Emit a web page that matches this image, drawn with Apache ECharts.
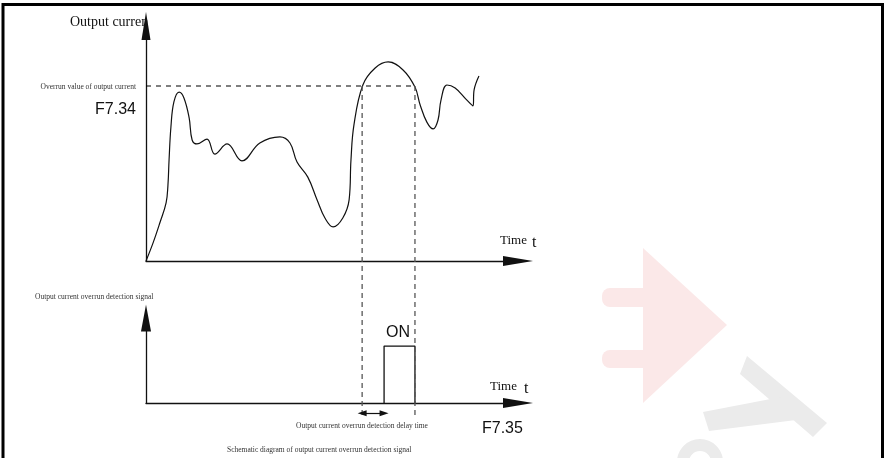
<!DOCTYPE html>
<html lang="en">

<head>
    <meta charset="UTF-8">
    <title>Output current overrun detection signal</title>
    <style>
        * {
            margin: 0;
            padding: 0;
        }

        #main {
            width: 885px;
            height: 458px;
            background: #fff;
        }
    </style>
</head>

<body>
    <div id="main"></div>
</body>
<script src="https://cdn.jsdelivr.net/npm/echarts@6/dist/echarts.min.js"></script>
<script>
    // output current curve (time 0-100, current 0-100)
    let timeX = [0, 1.9, 3.8, 5.4, 5.9, 6.2, 6.7, 7.5, 8.9, 10.2, 11.6, 12.4, 13.7, 16.4, 18.5, 21.8, 25.8, 30.6, 36.0, 38.7,
        40.6, 43.5, 46.0, 48.1, 50.3, 52.9, 54.6, 55.1, 55.9, 58.3, 61.6, 65.1, 69.1, 72.3, 73.7, 75.5, 77.2, 78.5, 79.3,
        80.9, 83.1, 86.0, 87.9, 88.2, 89.5];
    let currentY = [0, 7.7, 16.6, 24.7, 32.3, 43.0, 57.0, 67.7, 71.9, 69.4, 60.9, 51.5, 49.8, 51.9, 45.5, 49.8, 42.6, 50.2, 52.8, 50.2,
        42.1, 35.7, 26.0, 18.3, 14.5, 18.3, 26.0, 43.0, 57.9, 74.9, 82.1, 84.7, 81.3, 74.0, 66.4, 59.1, 56.2, 60.0, 68.5,
        74.9, 73.6, 68.9, 66.0, 72.8, 78.7];
    let overrunValue = 74.5;      // F7.34
    let riseX = 58.1;             // current goes above F7.34
    let fallX = 72.3;             // current drops below F7.34
    let onX = 64.0;               // after delay F7.35 the signal turns ON
    let signalX = [onX, onX, fallX, fallX];
    let signalY = [0, 67, 67, 0];
    // helper grid (spans both charts) for the guide lines
    let guideTop = 85;
    let guideBottom = 2.2;
    let delayY = 3.2;

    let curve = timeX.map((x, i) => [x, currentY[i]]);
    let signal = signalX.map((x, i) => [x, signalY[i]]);

    let serif = 'Liberation Serif';
    let sans = 'Liberation Sans';

    function axisPair(gridIndex, show, arrowY, arrowX) {
        let hidden = { show: false };
        return {
            x: {
                type: 'value', gridIndex: gridIndex, min: 0, max: 100, show: show,
                axisLine: {
                    show: show, onZero: false, symbol: ['none', 'triangle'], symbolSize: arrowX,
                    lineStyle: { color: '#111', width: 1.3 }
                },
                axisTick: hidden, axisLabel: hidden, splitLine: hidden
            },
            y: {
                type: 'value', gridIndex: gridIndex, min: 0, max: 100, show: show,
                axisLine: {
                    show: show, onZero: false, symbol: ['none', 'triangle'], symbolSize: arrowY,
                    lineStyle: { color: '#111', width: 1.3 }
                },
                axisTick: hidden, axisLabel: hidden, splitLine: hidden
            }
        }
    }
    let a0 = axisPair(0, true, [9, 28], [10, 30]);
    let a1 = axisPair(1, true, [10, 27], [10, 30]);
    let a2 = axisPair(2, false);

    function txt(x, y, text, size, font, align, color, z) {
        return {
            type: 'text', z: z || 10, silent: true,
            style: {
                x: x, y: y, text: text, fontSize: size, fontFamily: font,
                fill: color || '#111', textAlign: align || 'left', textVerticalAlign: 'middle'
            }
        }
    }

    let wmPink = '#fbe8e8';
    let wmGrey = '#ebebeb';

    let option = {
        animation: false,
        grid: [
            { left: 146, top: 26, width: 372, height: 235 },
            { left: 146, top: 318, width: 372, height: 85 },
            { left: 146, top: 26, width: 372, height: 400 }
        ],
        xAxis: [a0.x, a1.x, a2.x],
        yAxis: [a0.y, a1.y, a2.y],
        graphic: [
            // watermark
            { type: 'polygon', z: -20, silent: true, shape: { points: [[643, 248], [727, 325], [643, 403]] }, style: { fill: wmPink } },
            { type: 'rect', z: -20, silent: true, shape: { x: 602, y: 288, width: 44, height: 19, r: [8, 0, 0, 8] }, style: { fill: wmPink } },
            { type: 'rect', z: -20, silent: true, shape: { x: 602, y: 350, width: 44, height: 18, r: [8, 0, 0, 8] }, style: { fill: wmPink } },
            { type: 'polygon', z: -20, silent: true, shape: { points: [[747, 356], [827, 423], [813, 437], [740, 374]] }, style: { fill: wmGrey } },
            { type: 'polygon', z: -20, silent: true, shape: { points: [[703, 412], [781, 397], [796, 420], [709, 431]] }, style: { fill: wmGrey } },
            { type: 'circle', z: -20, silent: true, shape: { cx: 700, cy: 462, r: 17 }, style: { fill: null, stroke: wmGrey, lineWidth: 12 } },
            // frame
            {
                type: 'polyline', z: 20, silent: true,
                shape: { points: [[3, 458], [3, 4.5], [882.5, 4.5], [882.5, 458]] },
                style: { stroke: '#000', lineWidth: 3, fill: null }
            },
            txt(70, 22, 'Output curren', 14, serif, 'left', '#111', -5),
            txt(136, 87, 'Overrun value of output current', 7.5, serif, 'right', '#333'),
            txt(136, 110, 'F7.34', 16, sans, 'right'),
            txt(500, 241, 'Time', 13, serif),
            txt(532, 243, 't', 16, serif),
            txt(35, 297, 'Output current overrun detection signal', 7.5, serif, 'left', '#333'),
            txt(398, 333, 'ON', 16, sans, 'center'),
            txt(490, 387, 'Time', 13, serif),
            txt(524, 389, 't', 16, serif),
            txt(362, 426, 'Output current overrun detection delay time', 7.5, serif, 'center', '#333'),
            txt(482, 429, 'F7.35', 16, sans),
            txt(227, 450, 'Schematic diagram of output current overrun detection signal', 7.5, serif, 'left', '#333')
        ],
        series: [
            {
                name: 'Output current', type: 'line', xAxisIndex: 0, yAxisIndex: 0,
                data: curve, smooth: 0.4, symbol: 'none',
                lineStyle: { color: '#111', width: 1.2 }
            },
            {
                name: 'F7.34', type: 'line', xAxisIndex: 0, yAxisIndex: 0,
                data: [[0, overrunValue], [fallX, overrunValue]], symbol: 'none',
                lineStyle: { color: '#000', width: 1.1, type: [5, 5] }
            },
            {
                name: 'Detection signal', type: 'line', xAxisIndex: 1, yAxisIndex: 1,
                data: signal, symbol: 'none',
                lineStyle: { color: '#111', width: 1.3 }
            },
            {
                name: 'rise', type: 'line', xAxisIndex: 2, yAxisIndex: 2,
                data: [[riseX, guideTop], [riseX, guideBottom]], symbol: 'none',
                lineStyle: { color: '#555', width: 1.3, type: [5, 4] }
            },
            {
                name: 'fall', type: 'line', xAxisIndex: 2, yAxisIndex: 2,
                data: [[fallX, guideTop], [fallX, guideBottom]], symbol: 'none',
                lineStyle: { color: '#555', width: 1.3, type: [5, 4] },
                markLine: {
                    silent: true, symbol: ['triangle', 'triangle'], symbolSize: [6, 9],
                    label: { show: false },
                    lineStyle: { color: '#111', width: 1.2, type: 'solid' },
                    data: [[{ coord: [riseX, delayY] }, { coord: [onX, delayY] }]]
                }
            }
        ]
    }
    initChart(option)

    function initChart(option) {
        let myCharts = echarts.init(document.getElementById('main'))
        myCharts.clear()
        myCharts.setOption(option)
        window.addEventListener('resize', () => {
            myCharts.resize()
        })
    }
</script>

</html>
